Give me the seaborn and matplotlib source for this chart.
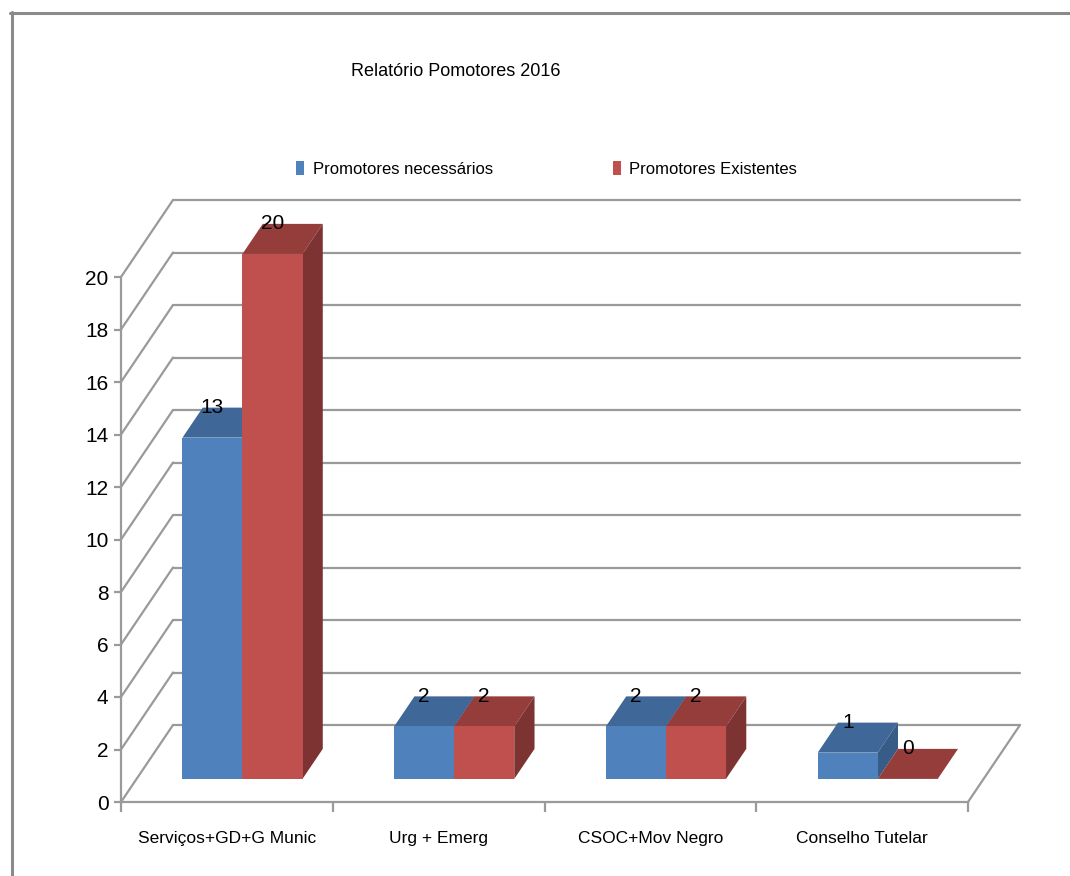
import pandas as pd
import matplotlib.pyplot as plt
import seaborn as sb
from matplotlib.patches import Polygon
from matplotlib.lines import Line2D

# dados do gráfico
categorias = ['Serviços+GD+G Munic', 'Urg + Emerg', 'CSOC+Mov Negro', 'Conselho Tutelar']
series = ['Promotores necessários', 'Promotores Existentes']
necessarios = [13, 2, 2, 1]
existentes = [20, 2, 2, 0]
y_ticks = list(range(0, 21, 2))
titulo = 'Relatório Pomotores 2016'

cores_frente = ['#4F81BD', '#C0504D']
cores_topo = ['#3F6797', '#943D3B']
cores_lado = ['#375C87', '#7D3331']
cinza = '#9a9a9a'

W, H = 1070, 876
sb.set_style('white')
plt.rcParams['font.family'] = ['Liberation Sans', 'DejaVu Sans']
plt.rcParams['text.color'] = 'black'
plt.rcParams['xtick.labelcolor'] = 'black'
plt.rcParams['ytick.labelcolor'] = 'black'

fig = plt.figure(figsize=(W / 100, H / 100), dpi=100)


def px_box(x0, y0, x1, y1):
    # pixel box (y from the top) -> figure fraction
    return [x0 / W, 1 - y1 / H, (x1 - x0) / W, (y1 - y0) / H]


# front plane of the 3d box: 0..20 between y=802 and y=277
ax = fig.add_axes(px_box(121, 277, 968, 802))
ax.set_xlim(-0.5, 3.5)
ax.set_ylim(0, 20)

# depth of the box in pixels and in data units
DX, DY = 52, 77
dxd = DX / ((968 - 121) / 4)
dyd = DY / ((802 - 277) / 20)

# back wall + side wall
for v in y_ticks:
    ax.plot([-0.5, -0.5 + dxd], [v, v + dyd], color=cinza, lw=1.6, clip_on=False)
    ax.plot([-0.5 + dxd, 3.5 + dxd], [v + dyd, v + dyd], color=cinza, lw=1.6, clip_on=False)
ax.plot([3.5, 3.5 + dxd], [0, dyd], color=cinza, lw=1.6, clip_on=False)

sb.despine(ax=ax)
for s in ['left', 'bottom']:
    ax.spines[s].set_color(cinza)
    ax.spines[s].set_linewidth(1.6)
ax.set_yticks(y_ticks)
ax.tick_params(axis='y', left=True, length=5, width=1.6, color=cinza, labelsize=15, pad=4)
ax.set_xticks(range(len(categorias)))
ax.set_xticklabels(categorias)
ax.set_xticks([i - 0.5 for i in range(len(categorias) + 1)], minor=True)
ax.tick_params(axis='x', which='major', length=0, pad=21, labelsize=12.5)
ax.tick_params(axis='x', which='minor', bottom=True, length=7, width=1.6, color=cinza)
ax.set_xlabel('')
ax.set_ylabel('')

# bars sit in a plane 30% into the box
prof = 0.3
axb = fig.add_axes(px_box(121 + DX * prof, 277 - DY * prof, 968 + DX * prof, 802 - DY * prof))
axb.patch.set_alpha(0)

df = pd.DataFrame({
    'categoria': categorias * 2,
    'serie': [series[0]] * len(categorias) + [series[1]] * len(categorias),
    'valor': necessarios + existentes,
})
sb.barplot(data=df, x='categoria', y='valor', hue='serie', palette=cores_frente,
           saturation=1, width=0.567, linewidth=0, ax=axb)
axb.set_xlim(-0.5, 3.5)
axb.set_ylim(0, 20)
axb.axis('off')

ddx, ddy = 0.39 * dxd, 0.39 * dyd
for i, cont in enumerate(axb.containers):
    for bar in cont:
        x, w, h = bar.get_x(), bar.get_width(), bar.get_height()
        bar.set_zorder(3 + 2 * i)
        bar.set_clip_on(False)
        topo = Polygon([(x, h), (x + w, h), (x + w + ddx, h + ddy), (x + ddx, h + ddy)],
                       closed=True, fc=cores_topo[i], ec='none', zorder=2.5 + 2 * i, clip_on=False)
        lado = Polygon([(x + w, 0), (x + w + ddx, ddy), (x + w + ddx, h + ddy), (x + w, h)],
                       closed=True, fc=cores_lado[i], ec='none', zorder=2.5 + 2 * i, clip_on=False)
        axb.add_patch(topo)
        axb.add_patch(lado)
        axb.text(x + w / 2, h + ddy, f'{h:g}', ha='center', va='center', fontsize=15,
                 zorder=10, clip_on=False)

sb.move_legend(axb, 'center left', bbox_to_anchor=(296 / W, 1 - 169 / H),
               bbox_transform=fig.transFigure, ncol=2, frameon=False, title=None,
               fontsize=12, handlelength=0.5, handleheight=0.9, handletextpad=0.5,
               columnspacing=7.2, borderaxespad=0, borderpad=0)

fig.text(456 / W, 1 - 72 / H, titulo, ha='center', va='center', fontsize=13)

# chart border (top and left only)
fig.add_artist(Line2D([10 / W, 1], [1 - 12.5 / H] * 2, color='#8a8a8a', lw=2.2))
fig.add_artist(Line2D([11.5 / W] * 2, [0, 1 - 12 / H], color='#8a8a8a', lw=2.2))

fig.savefig('out.png', dpi=100)
